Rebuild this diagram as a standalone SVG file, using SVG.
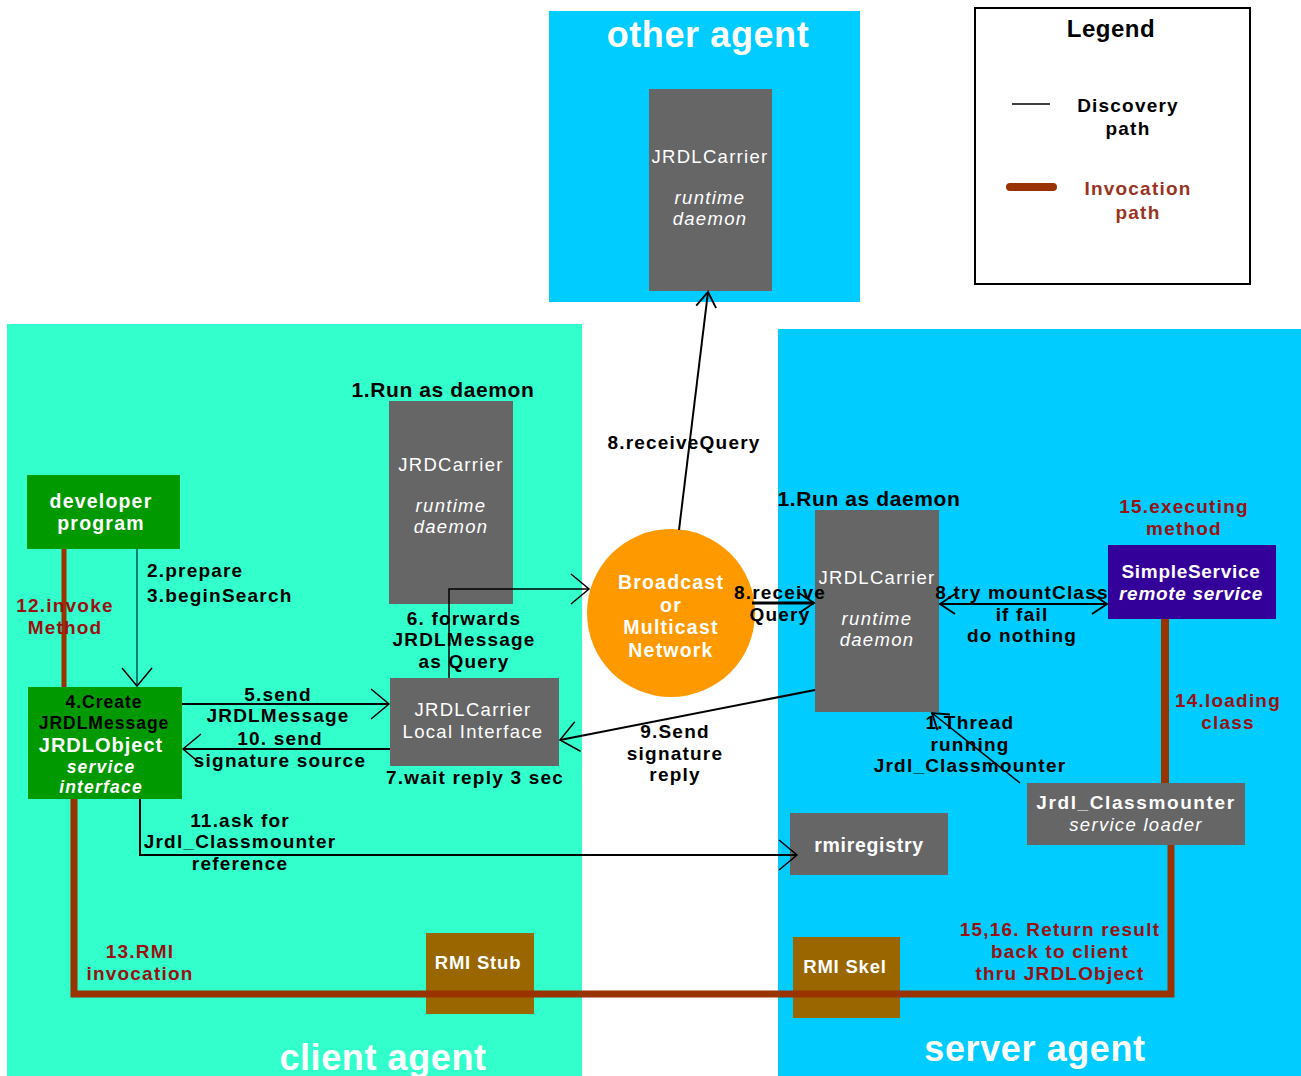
<svg xmlns="http://www.w3.org/2000/svg" width="1301" height="1076" viewBox="0 0 1301 1076">
<defs>
<style>
text{font-family:"Liberation Sans",Arial,sans-serif;text-anchor:middle}
.lb{font-size:19px;font-weight:bold;fill:#000;letter-spacing:1.2px}
.red{font-size:19px;font-weight:bold;fill:#991111;letter-spacing:1.2px}
.gw{font-size:18.5px;fill:#fff;letter-spacing:1.3px}
.gwb{font-size:19px;fill:#fff;font-weight:bold;letter-spacing:0.7px}
.wb{font-weight:bold;fill:#fff;letter-spacing:1.2px}
.it{font-style:italic}
.zone{font-size:36px;font-weight:bold;fill:#fff;letter-spacing:0.6px}
.gray{fill:#666666}
.thin{fill:none;stroke:#000;stroke-width:2}
.inv{fill:none;stroke:#993300;stroke-width:7}
</style>
<marker id="ah" markerUnits="userSpaceOnUse" markerWidth="40" markerHeight="40" viewBox="-22 -20 24 40" refX="0" refY="0" orient="auto-start-reverse">
<path d="M-18,-15 L0,0 L-18,15" fill="none" stroke="#000" stroke-width="1.5"/>
</marker>
<marker id="ahs" markerUnits="userSpaceOnUse" markerWidth="30" markerHeight="30" viewBox="-14 -12 16 24" refX="0" refY="0" orient="auto-start-reverse">
<path d="M-12,-8 L0,0 L-12,8" fill="none" stroke="#000" stroke-width="1.5"/>
</marker>
</defs>
<rect width="1301" height="1076" fill="#fff"/>

<g id="zones">
<rect x="7" y="324" width="575" height="752" fill="#33FFCC"/>
<rect x="778" y="329" width="523" height="747" fill="#00CCFF"/>
<rect x="549" y="11" width="311" height="291" fill="#00CCFF"/>
<text class="zone" x="708" y="47">other agent</text>
<text class="zone" x="383" y="1070">client agent</text>
<text class="zone" x="1035" y="1061">server agent</text>
</g>

<g id="legend">
<rect x="975" y="8" width="275" height="276" fill="#fff" stroke="#000" stroke-width="2"/>
<text x="1111" y="37" style="font-size:24px;font-weight:bold;letter-spacing:0.5px">Legend</text>
<line x1="1012" y1="104" x2="1050" y2="104" stroke="#000" stroke-width="1.5"/>
<text class="lb" x="1128" y="112">Discovery</text>
<text class="lb" x="1128" y="135">path</text>
<line x1="1010" y1="187" x2="1053" y2="187" stroke="#993300" stroke-width="8" stroke-linecap="round"/>
<text class="red" x="1138" y="195" style="fill:#993322">Invocation</text>
<text class="red" x="1138" y="219" style="fill:#993322">path</text>
</g>

<g id="other-carrier">
<rect class="gray" x="649" y="89" width="123" height="202"/>
<text class="gw" x="710" y="163">JRDLCarrier</text>
<text class="gw it" x="710" y="204">runtime</text>
<text class="gw it" x="710" y="225">daemon</text>
</g>

<g id="client-carrier">
<text class="lb" x="443" y="397" style="font-size:21px;letter-spacing:0.6px">1.Run as daemon</text>
<rect class="gray" x="389" y="401" width="124" height="203"/>
<text class="gw" x="451" y="471">JRDCarrier</text>
<text class="gw it" x="451" y="512">runtime</text>
<text class="gw it" x="451" y="533">daemon</text>
</g>

<g id="developer">
<rect x="27" y="475" width="153" height="74" fill="#009900"/>
<text class="wb" x="101" y="508" style="font-size:19.5px">developer</text>
<text class="wb" x="101" y="530" style="font-size:19.5px">program</text>
</g>

<g id="jrdlobject">
<rect x="28" y="687" width="154" height="112" fill="#009900"/>
<text class="lb" x="104" y="708" style="font-size:17.5px;letter-spacing:1px">4.Create</text>
<text class="lb" x="104" y="728.5" style="font-size:17.5px;letter-spacing:1px">JRDLMessage</text>
<text class="wb" x="101" y="752" style="font-size:20px;letter-spacing:1px">JRDLObject</text>
<text class="wb it" x="101" y="773" style="font-size:17.5px">service</text>
<text class="wb it" x="101" y="793" style="font-size:17.5px">interface</text>
</g>

<g id="local-interface">
<rect class="gray" x="390" y="678" width="169" height="88"/>
<text class="gw" x="473" y="716">JRDLCarrier</text>
<text class="gw" x="473" y="737.5">Local Interface</text>
</g>

<g id="broadcast">
<circle cx="671" cy="613" r="84" fill="#FF9900"/>
<text class="wb" x="671" y="589" style="font-size:19.5px">Broadcast</text>
<text class="wb" x="671" y="611.5" style="font-size:19.5px">or</text>
<text class="wb" x="671" y="634" style="font-size:19.5px">Multicast</text>
<text class="wb" x="671" y="656.5" style="font-size:19.5px">Network</text>
</g>

<g id="server-carrier">
<text class="lb" x="869" y="506" style="font-size:21px;letter-spacing:0.6px">1.Run as daemon</text>
<rect class="gray" x="815" y="510" width="124" height="202"/>
<text class="gw" x="877" y="584">JRDLCarrier</text>
<text class="gw it" x="877" y="625">runtime</text>
<text class="gw it" x="877" y="646">daemon</text>
</g>

<g id="simpleservice">
<text class="red" x="1184" y="513">15.executing</text>
<text class="red" x="1184" y="535">method</text>
<rect x="1108" y="545" width="168" height="74" fill="#330099"/>
<text class="gwb" x="1191" y="578">SimpleService</text>
<text class="gwb it" x="1191" y="600">remote service</text>
</g>

<g id="classmounter">
<rect class="gray" x="1027" y="783" width="218" height="62"/>
<text class="gwb" x="1136" y="809" style="letter-spacing:1.6px">Jrdl_Classmounter</text>
<text class="gw it" x="1136" y="830.5">service loader</text>
</g>

<g id="rmiregistry">
<rect class="gray" x="790" y="813" width="158" height="62"/>
<text class="gwb" x="869" y="852" style="font-size:19.5px">rmiregistry</text>
</g>

<g id="rmistub">
<rect x="426" y="933" width="108" height="81" fill="#996600"/>
<text class="gwb" x="478" y="969" style="font-size:18.5px;letter-spacing:0.8px">RMI Stub</text>
</g>

<g id="rmiskel">
<rect x="793" y="937" width="107" height="81" fill="#996600"/>
<text class="gwb" x="845" y="973" style="font-size:18.5px;letter-spacing:0.8px">RMI Skel</text>
</g>

<g id="connectors">
<line class="thin" x1="137" y1="549" x2="137" y2="686" marker-end="url(#ah)" style="stroke:#005555;stroke-width:1.5"/>
<line class="inv" x1="64" y1="549" x2="64" y2="687" style="stroke-width:5"/>
<line class="thin" x1="182" y1="704" x2="389" y2="704" marker-end="url(#ah)"/>
<line class="thin" x1="390" y1="749" x2="183" y2="749" marker-end="url(#ah)"/>
<polyline class="thin" points="449,678 449,589 589,589" marker-end="url(#ah)" style="stroke-width:1.5"/>
<line class="thin" x1="679" y1="530" x2="708" y2="292" marker-end="url(#ahs)"/>
<line class="thin" x1="752" y1="603" x2="814" y2="603" marker-end="url(#ahs)" style="stroke-width:3"/>
<line class="thin" x1="815" y1="690" x2="560" y2="740" marker-end="url(#ah)"/>
<line class="thin" x1="940" y1="604" x2="1107" y2="604" marker-start="url(#ahs)" marker-end="url(#ahs)"/>
<line class="thin" x1="1020" y1="783" x2="932" y2="713" marker-end="url(#ahs)" style="stroke-width:1.5"/>
<polyline class="thin" points="140,799 140,855 797,855" marker-end="url(#ah)"/>
<line class="inv" x1="1165" y1="619" x2="1165" y2="783" style="stroke-width:8"/>
<polyline class="inv" points="1171,845 1171,994 74,994 74,799"/>
</g>

<g id="labels">
<text class="lb" x="147" y="577" style="text-anchor:start">2.prepare</text>
<text class="lb" x="147" y="602" style="text-anchor:start">3.beginSearch</text>
<text class="red" x="65" y="612">12.invoke</text>
<text class="red" x="65" y="634">Method</text>
<text class="lb" x="278" y="700.5">5.send</text>
<text class="lb" x="278" y="722">JRDLMessage</text>
<text class="lb" x="280" y="745">10. send</text>
<text class="lb" x="280" y="766.5">signature source</text>
<text class="lb" x="475" y="784">7.wait reply 3 sec</text>
<text class="lb" x="464" y="624.5">6. forwards</text>
<text class="lb" x="464" y="646">JRDLMessage</text>
<text class="lb" x="464" y="667.5">as Query</text>
<text class="lb" x="684" y="449">8.receiveQuery</text>
<text class="lb" x="780" y="599">8.receive</text>
<text class="lb" x="780" y="620.5">Query</text>
<text class="lb" x="675" y="738">9.Send</text>
<text class="lb" x="675" y="759.5">signature</text>
<text class="lb" x="675" y="781">reply</text>
<text class="lb" x="1022" y="599">8.try mountClass</text>
<text class="lb" x="1022" y="620.5">if fail</text>
<text class="lb" x="1022" y="642">do nothing</text>
<text class="lb" x="970" y="729">1.Thread</text>
<text class="lb" x="970" y="750.5">running</text>
<text class="lb" x="970" y="772">Jrdl_Classmounter</text>
<text class="lb" x="240" y="826.5">11.ask for</text>
<text class="lb" x="240" y="848">Jrdl_Classmounter</text>
<text class="lb" x="240" y="869.5">reference</text>
<text class="red" x="1228" y="707">14.loading</text>
<text class="red" x="1228" y="729">class</text>
<text class="red" x="1060" y="936">15,16. Return result</text>
<text class="red" x="1060" y="958">back to client</text>
<text class="red" x="1060" y="980">thru JRDLObject</text>
<text class="red" x="140" y="958">13.RMI</text>
<text class="red" x="140" y="980">invocation</text>
</g>
</svg>
